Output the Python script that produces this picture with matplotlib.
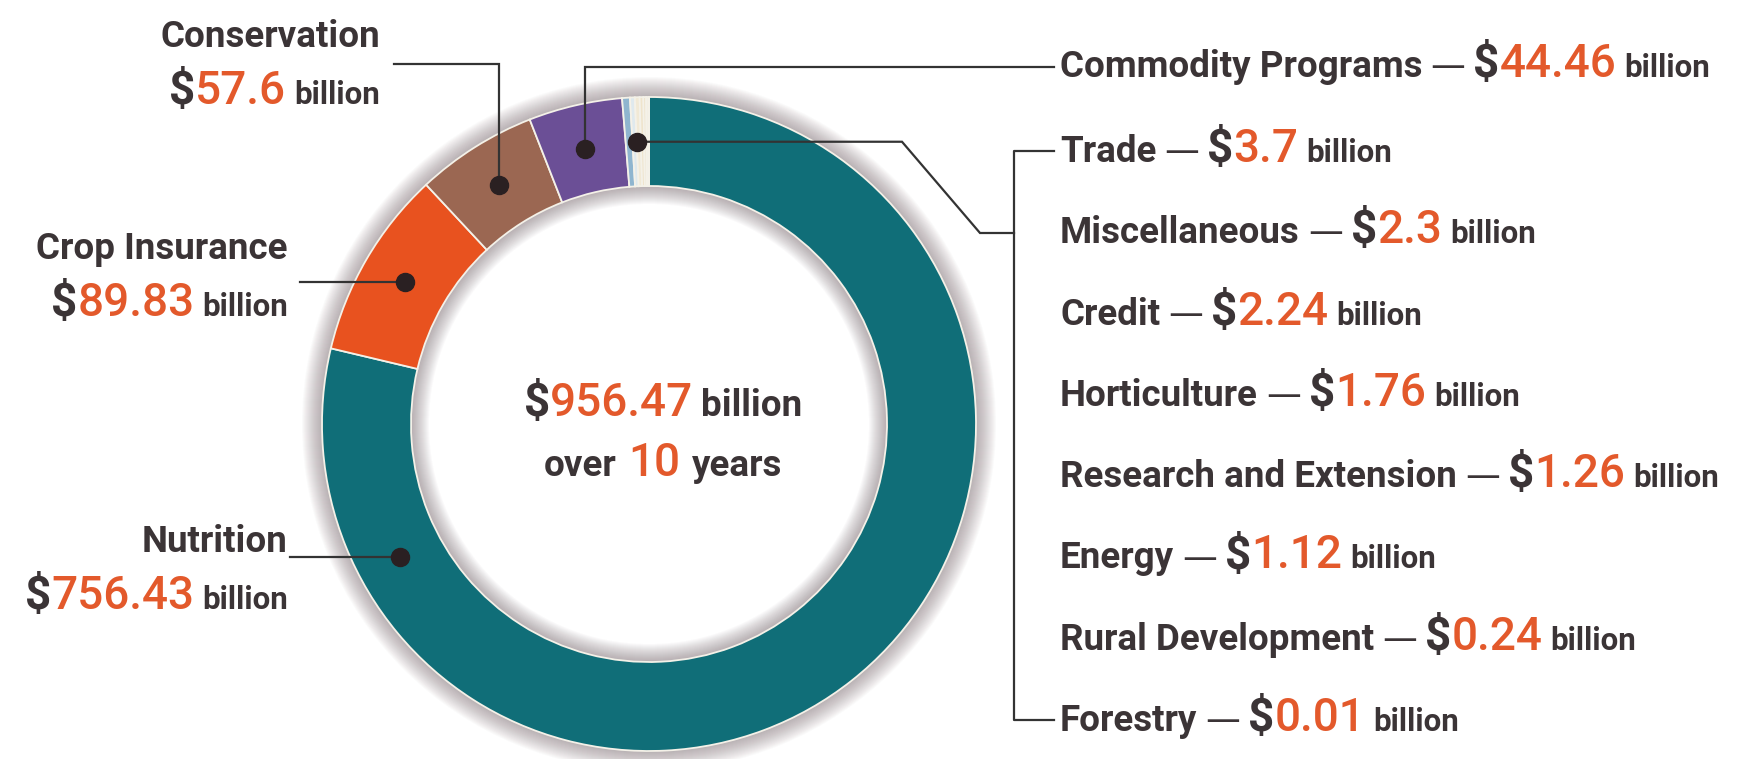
import matplotlib
matplotlib.use('Agg')
import matplotlib.pyplot as plt
from matplotlib.patches import Wedge
import numpy as np

# farm bill spending over 10 years, billions of dollars
categories = ['Nutrition', 'Crop Insurance', 'Conservation', 'Commodity Programs',
	'Trade', 'Miscellaneous', 'Credit', 'Horticulture', 'Research and Extension',
	'Energy', 'Rural Development', 'Forestry']
values = [756.43, 89.83, 57.6, 44.46, 3.7, 2.3, 2.24, 1.76, 1.26, 1.12, 0.24, 0.01]
value_labels = ['756.43', '89.83', '57.6', '44.46', '3.7', '2.3', '2.24', '1.76',
	'1.26', '1.12', '0.24', '0.01']
total_label = '956.47'
years_label = '10'

colors = ['#106e78', '#e8521f', '#9b6752', '#6b4f96',
	'#8fb5cf', '#dfe9ee', '#f1e9d6', '#efe4cc', '#ece0c5', '#f3ecdc', '#e6dcc4', '#d0c4a8']

FONT = ['Roboto', 'DejaVu Sans']
DASH_FONT = ['DejaVu Sans']
DARK = '#3b3436'
ORANGE = '#e3592b'
LINE = '#333333'
SHADOW = '#6b5a60'

LABEL_SIZE = 26.5
NUM_SIZE = 33
BILLION_SIZE = 22.5

W, H = 1762, 759
CX, CY = 649, H - 424  # ring centre (y up)
R, RIN = 327, 238


def draw_runs(ax, renderer, x, y, parts, ha='left'):
	""" Draws text pieces one after another on a common baseline """
	texts = []
	cur = x
	for s, color, size, gap, weight, fam in parts:
		cur += gap
		t = ax.text(cur, y, s, color=color, fontsize=size, fontweight=weight,
			family=fam, va='baseline', ha='left', zorder=5)
		cur += t.get_window_extent(renderer).width
		texts.append(t)
	width = cur - x
	shift = {'left': 0, 'center': -width / 2.0, 'right': -width}[ha]
	for t in texts:
		t.set_x(t.get_position()[0] + shift)


def word(s, color=DARK, size=LABEL_SIZE, gap=0):
	return (s, color, size, gap, 'bold', FONT)


def money(num, gap=0, unit_size=BILLION_SIZE):
	return [word('$', DARK, NUM_SIZE, gap), (num, ORANGE, NUM_SIZE, 0, 'medium', FONT),
		word('billion', DARK, unit_size, 8)]


def main():
	fig = plt.figure(figsize=(W / 100.0, H / 100.0), dpi=100)
	ax = fig.add_axes([0, 0, 1, 1])

	#soft shadow outside and inside the ring (stacked thin annuli)
	for k in range(20):
		ax.add_patch(Wedge((CX, CY), R + 1 + k, 0, 360, width=4 + k, color=SHADOW,
			alpha=0.028, lw=0, zorder=0))
	for k in range(18):
		ax.add_patch(Wedge((CX, CY), RIN + 2, 0, 360, width=3 + k, color=SHADOW,
			alpha=0.032, lw=0, zorder=0))

	ax.pie(values, colors=colors, radius=R, center=(CX, CY), startangle=90,
		counterclock=False, frame=True,
		wedgeprops=dict(width=R - RIN, edgecolor='#f4f1e8', linewidth=1.3))

	ax.set_xlim(0, W)
	ax.set_ylim(0, H)
	ax.set_aspect('equal')
	ax.axis('off')

	renderer = fig.canvas.get_renderer()

	#slice angles, clockwise from the top
	total = float(sum(values))
	cum = np.concatenate([[0], np.cumsum(values)])
	starts = 90 - 360 * cum[:-1] / total
	ends = 90 - 360 * cum[1:] / total
	mids = (starts + ends) / 2.0
	rmid = (R + RIN) / 2.0

	def dot_at(angle):
		a = np.radians(angle)
		return CX + rmid * np.cos(a), CY + rmid * np.sin(a)

	def leader(xs, ys, dot):
		ax.plot(xs, [H - y for y in ys], color=LINE, lw=1.6, zorder=3, solid_joinstyle='miter')
		ax.plot(dot[0], dot[1], 'o', ms=13, color='#2a2022', zorder=4)

	#left hand labels
	nut = dot_at(208)
	leader([290, nut[0]], [H - nut[1], H - nut[1]], nut)
	crop = dot_at(mids[1])
	leader([300, crop[0]], [H - crop[1], H - crop[1]], crop)
	cons = dot_at(mids[2])
	leader([394, cons[0], cons[0]], [64, 64, H - cons[1]], cons)

	draw_runs(ax, renderer, 380, H - 47, [word('Conservation')], ha='right')
	draw_runs(ax, renderer, 380, H - 104, money(value_labels[2]), ha='right')
	draw_runs(ax, renderer, 288, H - 259, [word('Crop Insurance')], ha='right')
	draw_runs(ax, renderer, 288, H - 316, money(value_labels[1]), ha='right')
	draw_runs(ax, renderer, 288, H - 552, [word('Nutrition')], ha='right')
	draw_runs(ax, renderer, 288, H - 609, money(value_labels[0]), ha='right')

	#right hand list
	x0 = 1060
	bases = [77] + [162 + 81.3 * i for i in range(8)]
	for i, idx in enumerate(range(3, 12)):
		parts = [word(categories[idx]), (u'\u2014', DARK, 25, 8, 'normal', DASH_FONT)]
		parts += money(value_labels[idx], gap=8)
		draw_runs(ax, renderer, x0, H - bases[i], parts)

	com = dot_at(mids[3])
	leader([com[0], com[0], x0 - 6], [H - com[1], bases[0] - 10, bases[0] - 10], com)

	small = dot_at((starts[4] + ends[-1]) / 2.0)
	sy = H - small[1]
	bx = 1014
	leader([small[0], 902, 980, bx], [sy, sy, 233, 233], small)
	ax.plot([x0 - 6, bx, bx, x0 - 6], [H - (bases[1] - 11), H - (bases[1] - 11),
		H - (bases[-1] - 11), H - (bases[-1] - 11)], color=LINE, lw=1.6, zorder=3)

	#centre total
	draw_runs(ax, renderer, CX + 14, H - 416,
		money(total_label, unit_size=LABEL_SIZE), ha='center')
	draw_runs(ax, renderer, CX + 14, H - 476,
		[word('over'), (years_label, ORANGE, NUM_SIZE, 12, 'medium', FONT), word('years', gap=12)],
		ha='center')

	fig.savefig('out.png', dpi=100, facecolor='white')


if __name__ == "__main__":
	main()
